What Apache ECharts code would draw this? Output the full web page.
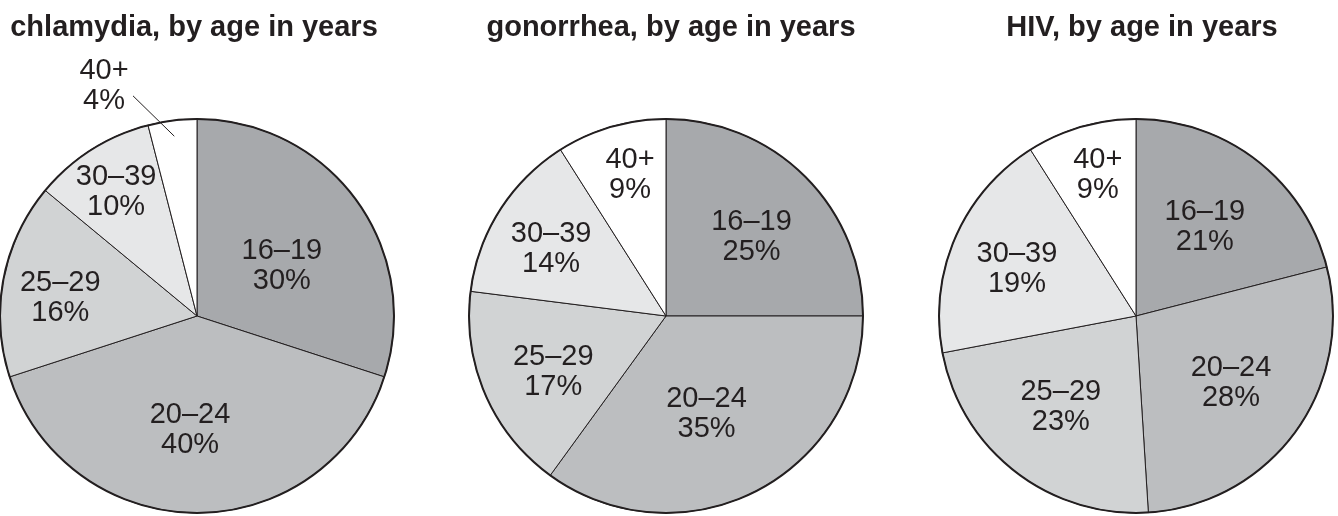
<!DOCTYPE html>
<html>
<head>
<meta charset="utf-8">
<script src="https://cdn.jsdelivr.net/npm/echarts@6/dist/echarts.min.js"></script>
<style>
html,body{margin:0;padding:0;background:#fff;}
#chart{width:1338px;height:516px;}
</style>
</head>
<body>
<div id="chart"></div>
<script>
// ---- data ----
const titles = ['chlamydia, by age in years', 'gonorrhea, by age in years', 'HIV, by age in years'];
const categories = ['16–19', '20–24', '25–29', '30–39', '40+'];
const chlamydia = [30, 40, 16, 10, 4];
const gonorrhea = [25, 35, 17, 14, 9];
const hiv = [21, 28, 23, 19, 9];
const seriesValues = [chlamydia, gonorrhea, hiv];

// ---- style / layout ----
const sliceColors = ['#a7a9ac', '#bcbec0', '#d1d3d4', '#e6e7e8', '#ffffff'];
const ink = '#231f20';
const R = 197;
const centers = [[197, 316], [666, 316], [1136, 316]];
const titleX = [194, 671, 1142];
const titleY = 28;
// radial placement of labels (fraction of radius) and angular tweak (deg)
const labelRadius = [
  [0.50, 0.58, 0.70, 0.75, 1.26],
  [0.59, 0.54, 0.64, 0.675, 0.74],
  [0.57, 0.59, 0.60, 0.65, 0.74]
];
const labelAngleShift = [
  [5.5, 3.5, -3.3, -0.8, -14.8],
  [2.4, 4.6, -3.2, -2.2, 1.9],
  [0, -0.8, 1.7, -1.8, 1.0]
];
const outsideLabel = [[4], [], []];   // labels placed outside the pie with a leader line
const leaderStart = 0.92;             // leader starts inside the slice (fraction of R)
const leaderEndOffset = [29, 10];     // leader end relative to the label centre

function midAngle(vals, i) {
  const total = vals.reduce((a, b) => a + b, 0);
  let cum = 0;
  for (let j = 0; j < i; j++) cum += vals[j];
  return (cum + vals[i] / 2) / total * 360;
}
function polar(c, r, deg) {
  const a = deg * Math.PI / 180;
  return [c[0] + r * Math.sin(a), c[1] - r * Math.cos(a)];
}
function labelPos(s, i) {
  const vals = seriesValues[s];
  return polar(centers[s], labelRadius[s][i] * R, midAngle(vals, i) + labelAngleShift[s][i]);
}

const chart = echarts.init(document.getElementById('chart'), null, { renderer: 'canvas' });
const series = [];
const graphics = [];
seriesValues.forEach((vals, s) => {
  series.push({
    type: 'pie',
    center: centers[s],
    radius: R,
    startAngle: 90,
    clockwise: true,
    animation: false,
    silent: true,
    avoidLabelOverlap: false,
    itemStyle: { borderColor: ink, borderWidth: 1 },
    label: {
      show: true,
      position: 'inside',
      formatter: '{b}\n{c}%',
      color: ink,
      fontFamily: 'Liberation Sans, Arial, sans-serif',
      fontSize: 29,
      lineHeight: 30
    },
    labelLine: { show: false },
    labelLayout: function (params) {
      const p = labelPos(s, params.dataIndex);
      return { x: p[0], y: p[1], align: 'center', verticalAlign: 'middle' };
    },
    data: categories.map((name, i) => ({ name: name, value: vals[i], itemStyle: { color: sliceColors[i] } })),
    z: 2
  });
  // outer outline ring
  series.push({
    type: 'pie',
    center: centers[s],
    radius: R,
    animation: false,
    silent: true,
    label: { show: false },
    labelLine: { show: false },
    itemStyle: { color: 'rgba(0,0,0,0)', borderColor: ink, borderWidth: 2 },
    data: [{ name: 'outline', value: 1 }],
    z: 3
  });
  // leader lines for outside labels
  outsideLabel[s].forEach(i => {
    const start = polar(centers[s], leaderStart * R, midAngle(vals, i));
    const lp = labelPos(s, i);
    graphics.push({
      type: 'polyline',
      silent: true,
      z: 10,
      shape: { points: [start, [lp[0] + leaderEndOffset[0], lp[1] + leaderEndOffset[1]]] },
      style: { stroke: ink, lineWidth: 1, fill: null }
    });
  });
});

titles.forEach((t, i) => {
  graphics.push({
    type: 'text',
    x: titleX[i],
    y: titleY,
    silent: true,
    style: {
      text: t,
      fill: ink,
      font: 'bold 29px "Liberation Sans", Arial, sans-serif',
      align: 'center',
      verticalAlign: 'middle'
    }
  });
});

chart.setOption({
  backgroundColor: '#ffffff',
  animation: false,
  tooltip: { show: false },
  graphic: graphics,
  series: series
});
</script>
</body>
</html>
